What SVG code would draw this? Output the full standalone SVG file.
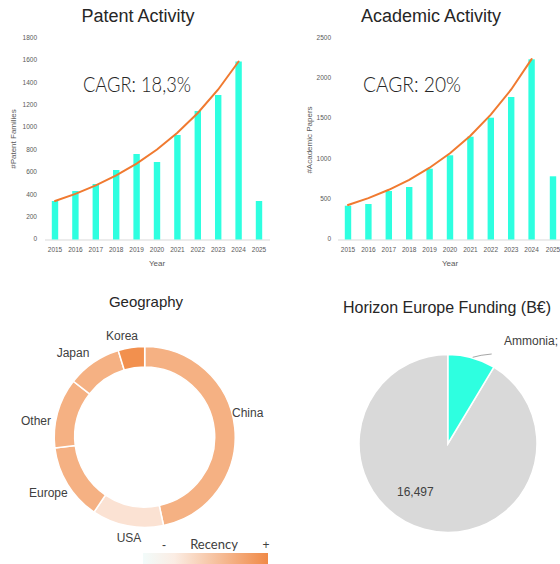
<svg xmlns="http://www.w3.org/2000/svg" width="560" height="564" viewBox="0 0 560 564">
<defs>
<style>
.title{font-family:"Liberation Sans",Arial,sans-serif;font-size:18px;fill:#262626;text-anchor:middle}
.cagr{font-family:Lato,"Open Sans",sans-serif;font-weight:300;font-size:21px;fill:#262626}
.tick{font-family:"Liberation Sans",Arial,sans-serif;font-size:6.5px;fill:#595959}
.ytick{text-anchor:end}
.xtick{text-anchor:middle}
.axt{font-family:"Liberation Sans",Arial,sans-serif;font-size:8px;fill:#595959;text-anchor:middle}
.bar{fill:#2EFFE0}
.trend{fill:none;stroke:#F07A30;stroke-width:2;stroke-linecap:round}
.axis{stroke:#D9D9D9;stroke-width:1}
.lbl{font-family:"Liberation Sans",Arial,sans-serif;font-size:12px;fill:#404040}
.seg{stroke:#fff;stroke-width:1.5}
</style>
<linearGradient id="rec" x1="0" y1="0" x2="1" y2="0">
<stop offset="0" stop-color="#F2FBFA"/>
<stop offset="0.25" stop-color="#FBEDE4"/>
<stop offset="1" stop-color="#F08A47"/>
</linearGradient>
</defs>
<rect width="560" height="564" fill="#fff"/>

<g id="patent-chart">
<text class="title" x="138" y="22">Patent Activity</text>
<g class="tick ytick">
<text x="37" y="241.3">0</text>
<text x="37" y="218.9">200</text>
<text x="37" y="196.5">400</text>
<text x="37" y="174.1">600</text>
<text x="37" y="151.7">800</text>
<text x="37" y="129.4">1000</text>
<text x="37" y="107">1200</text>
<text x="37" y="84.6">1400</text>
<text x="37" y="62.2">1600</text>
<text x="37" y="39.8">1800</text>
</g>
<line class="axis" x1="45" y1="240" x2="270" y2="240"/>
<g>
<rect class="bar" x="51.8" y="201" width="6.4" height="38.5"/>
<rect class="bar" x="72.2" y="191" width="6.4" height="48.5"/>
<rect class="bar" x="92.6" y="184" width="6.4" height="55.5"/>
<rect class="bar" x="113" y="170" width="6.4" height="69.5"/>
<rect class="bar" x="133.4" y="154" width="6.4" height="85.5"/>
<rect class="bar" x="153.8" y="162" width="6.4" height="77.5"/>
<rect class="bar" x="174.2" y="135" width="6.4" height="104.5"/>
<rect class="bar" x="194.6" y="111" width="6.4" height="128.5"/>
<rect class="bar" x="215" y="95" width="6.4" height="144.5"/>
<rect class="bar" x="235.4" y="61.5" width="6.4" height="178"/>
<rect class="bar" x="255.8" y="201" width="6.4" height="38.5"/>
</g>
<polyline class="trend" points="55,201 75.4,193.9 95.8,185.4 116.2,175.4 136.6,163.6 157,149.5 177.4,132.8 197.8,113 218.2,89.5 238.6,61.5"/>
<g class="tick xtick">
<text x="55" y="252">2015</text>
<text x="75.4" y="252">2016</text>
<text x="95.8" y="252">2017</text>
<text x="116.2" y="252">2018</text>
<text x="136.6" y="252">2019</text>
<text x="157" y="252">2020</text>
<text x="177.4" y="252">2021</text>
<text x="197.8" y="252">2022</text>
<text x="218.2" y="252">2023</text>
<text x="238.6" y="252">2024</text>
<text x="259" y="252">2025</text>
</g>
<text class="axt" x="157" y="265.5">Year</text>
<text class="axt" transform="translate(16,139) rotate(-90)">#Patent Families</text>
<text class="cagr" x="83" y="92" textLength="108" lengthAdjust="spacingAndGlyphs">CAGR: 18,3%</text>
</g>

<g id="academic-chart">
<text class="title" x="431" y="22">Academic Activity</text>
<g class="tick ytick">
<text x="331" y="241.3">0</text>
<text x="331" y="201">500</text>
<text x="331" y="160.7">1000</text>
<text x="331" y="120.4">1500</text>
<text x="331" y="80.1">2000</text>
<text x="331" y="39.8">2500</text>
</g>
<line class="axis" x1="338" y1="240" x2="560" y2="240"/>
<g>
<rect class="bar" x="344.8" y="205.7" width="6.4" height="33.8"/>
<rect class="bar" x="365.2" y="204" width="6.4" height="35.5"/>
<rect class="bar" x="385.6" y="191" width="6.4" height="48.5"/>
<rect class="bar" x="406" y="187" width="6.4" height="52.5"/>
<rect class="bar" x="426.4" y="168.7" width="6.4" height="70.8"/>
<rect class="bar" x="446.8" y="155.3" width="6.4" height="84.2"/>
<rect class="bar" x="467.2" y="136.7" width="6.4" height="102.8"/>
<rect class="bar" x="487.6" y="117.7" width="6.4" height="121.8"/>
<rect class="bar" x="508" y="97" width="6.4" height="142.5"/>
<rect class="bar" x="528.4" y="59.3" width="6.4" height="180.2"/>
<rect class="bar" x="549.8" y="176.3" width="6.4" height="63.2"/>
</g>
<polyline class="trend" points="348,205 368.4,198.1 388.8,189.8 409.2,179.8 429.6,167.7 450,153.2 470.4,135.7 490.8,114.7 511.2,89.5 531.6,59.1"/>
<g class="tick xtick">
<text x="348" y="252">2015</text>
<text x="368.4" y="252">2016</text>
<text x="388.8" y="252">2017</text>
<text x="409.2" y="252">2018</text>
<text x="429.6" y="252">2019</text>
<text x="450" y="252">2020</text>
<text x="470.4" y="252">2021</text>
<text x="490.8" y="252">2022</text>
<text x="511.2" y="252">2023</text>
<text x="531.6" y="252">2024</text>
<text x="553" y="252">2025</text>
</g>
<text class="axt" x="450" y="265.5">Year</text>
<text class="axt" transform="translate(312,140) rotate(-90)">#Academic Papers</text>
<text class="cagr" x="363" y="92" textLength="98" lengthAdjust="spacingAndGlyphs">CAGR: 20%</text>
</g>

<g id="geography-chart">
<text class="title" x="146" y="307" style="font-size:15px">Geography</text>
<path id="seg-china" class="seg" fill="#F5B183" d="M144.7,346.5 A90.5,90.5 0 0 1 163.52,525.52 L159.25,505.47 A70,70 0 0 0 144.7,367 Z"/>
<path id="seg-usa" class="seg" fill="#FBE2D3" d="M163.52,525.52 A90.5,90.5 0 0 1 94.09,512.03 L105.56,495.03 A70,70 0 0 0 159.25,505.47 Z"/>
<path id="seg-europe" class="seg" fill="#F5B183" d="M94.09,512.03 A90.5,90.5 0 0 1 54.88,448.03 L75.22,445.53 A70,70 0 0 0 105.56,495.03 Z"/>
<path id="seg-other" class="seg" fill="#F5B183" d="M54.88,448.03 A90.5,90.5 0 0 1 73.39,381.28 L89.54,393.9 A70,70 0 0 0 75.22,445.53 Z"/>
<path id="seg-japan" class="seg" fill="#F5B183" d="M73.39,381.28 A90.5,90.5 0 0 1 118.24,350.45 L124.23,370.06 A70,70 0 0 0 89.54,393.9 Z"/>
<path id="seg-korea" class="seg" fill="#F2904E" d="M118.24,350.45 A90.5,90.5 0 0 1 144.7,346.5 L144.7,367 A70,70 0 0 0 124.23,370.06 Z"/>
<text class="lbl" x="122" y="340" text-anchor="middle">Korea</text>
<text class="lbl" x="73" y="357" text-anchor="middle">Japan</text>
<text class="lbl" x="232" y="417">China</text>
<text class="lbl" x="21" y="425">Other</text>
<text class="lbl" x="29" y="497">Europe</text>
<text class="lbl" x="129" y="542" text-anchor="middle">USA</text>
</g>

<g id="recency-legend">
<rect x="143" y="553" width="125" height="11" fill="url(#rec)"/>
<text class="lbl" x="164" y="549" text-anchor="middle" style="font-size:12px">-</text>
<text class="lbl" x="214" y="549" text-anchor="middle" style="font-size:13px;font-family:Lato,'Open Sans',sans-serif">Recency</text>
<text class="lbl" x="266" y="549" text-anchor="middle" style="font-size:12px">+</text>
</g>

<g id="funding-chart">
<text class="title" x="447" y="313" style="font-size:16px">Horizon Europe Funding (B€)</text>
<path id="slice-other" class="seg" fill="#D9D9D9" d="M448,443.5 L493.84,367.21 A89,89 0 1 1 448,354.5 Z"/>
<path id="slice-ammonia" class="seg" fill="#2EFFE0" d="M448,443.5 L448,354.5 A89,89 0 0 1 493.84,367.21 Z"/>
<path d="M472.7,357.3 Q480,355 491.7,354" fill="none" stroke="#A6A6A6" stroke-width="1"/>
<text class="lbl" x="504" y="345">Ammonia;</text>
<text class="lbl" x="397" y="496">16,497</text>
</g>
</svg>
